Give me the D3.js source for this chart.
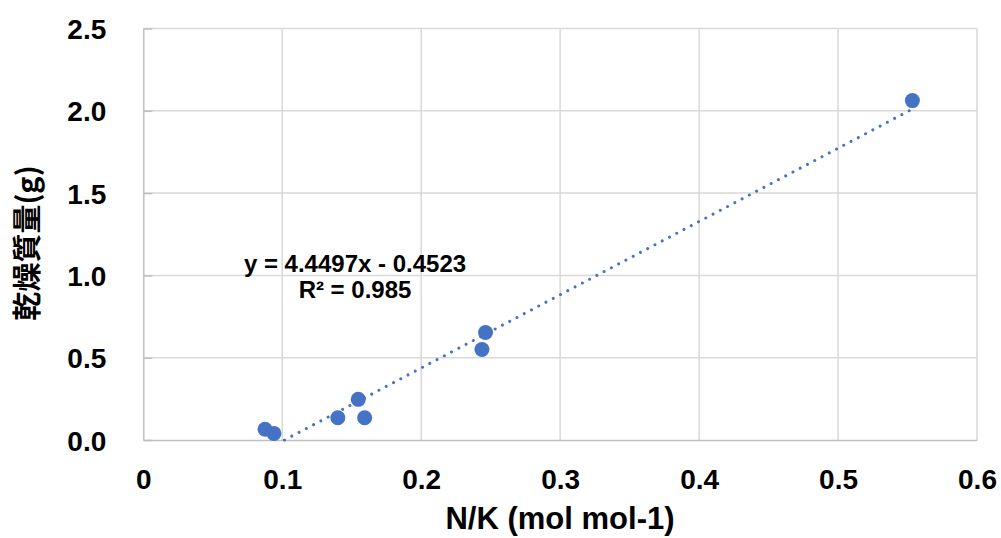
<!DOCTYPE html>
<html>
<head>
<meta charset="utf-8">
<script src="https://cdn.jsdelivr.net/npm/d3@7"></script>
<style>
  body { margin: 0; background: #fff; }
  svg { display: block; }
</style>
</head>
<body>
<svg id="chart" width="1001" height="538"></svg>
<script>
// data
var nk = [0.0876, 0.0940, 0.1400, 0.1547, 0.1593, 0.2437, 0.2463, 0.5535];
var dryMass = [0.065, 0.040, 0.135, 0.247, 0.135, 0.550, 0.653, 2.062];
var xTicks = [0, 0.1, 0.2, 0.3, 0.4, 0.5, 0.6];
var yTicks = [0, 0.5, 1.0, 1.5, 2.0, 2.5];
var slope = 4.4497, intercept = -0.4523;
var eqLines = ['y = 4.4497x - 0.4523', 'R² = 0.985'];

var svg = d3.select('#chart');
var plotLeft = 143.3, plotRight = 977, plotTop = 28.5, plotBottom = 440;
var blue = '#4472C4';

var x = d3.scaleLinear().domain([0, 0.6]).range([plotLeft, plotRight]);
var y = d3.scaleLinear().domain([0, 2.5]).range([plotBottom, plotTop]);

// grid
svg.append('g').selectAll('line').data(xTicks.slice(1)).enter().append('line')
	.attr('x1', d => x(d)).attr('x2', d => x(d))
	.attr('y1', plotTop).attr('y2', plotBottom)
	.attr('stroke', '#d9d9d9').attr('stroke-width', 1.5)
svg.append('g').selectAll('line').data(yTicks.slice(1)).enter().append('line')
	.attr('x1', plotLeft).attr('x2', plotRight)
	.attr('y1', d => y(d)).attr('y2', d => y(d))
	.attr('stroke', '#d9d9d9').attr('stroke-width', 1.5)

// axes
var yAxis = d3.axisLeft(y).tickValues(yTicks).tickSizeInner(-9).tickSizeOuter(0).tickFormat(d3.format('.1f'));
var gy = svg.append('g').attr('transform', 'translate(' + plotLeft + ',0)').call(yAxis);
gy.select('.domain').attr('stroke', '#bfbfbf').attr('stroke-width', 1.5);
gy.selectAll('.tick line').attr('stroke', '#bfbfbf').attr('stroke-width', 1.5);
gy.selectAll('.tick text').attr('x', -37).attr('dy', '0.36em')
	.style('font-family', 'Liberation Sans, Arial, sans-serif').style('font-size', '28px')
	.style('font-weight', 'bold').attr('fill', '#000');

var xAxis = d3.axisBottom(x).tickValues(xTicks).tickSize(0).tickFormat(d => d === 0 ? '0' : d3.format('.1f')(d));
var gx = svg.append('g').attr('transform', 'translate(0,' + plotBottom + ')').call(xAxis);
gx.select('.domain').attr('stroke', '#bfbfbf').attr('stroke-width', 1.5);
gx.selectAll('.tick text').attr('y', 49).attr('dy', 0)
	.style('font-family', 'Liberation Sans, Arial, sans-serif').style('font-size', '28px')
	.style('font-weight', 'bold').attr('fill', '#000');

// trendline, clipped at y = 0
var x0 = Math.max(d3.min(nk), -intercept / slope);
var x1 = d3.max(nk);
var trend = d3.line().x(d => x(d)).y(d => y(slope * d + intercept));
svg.append('path').datum([x0, x1])
	.attr('d', trend)
	.attr('fill', 'none')
	.attr('stroke', blue)
	.attr('stroke-width', 3)
	.attr('stroke-linecap', 'round')
	.attr('stroke-dasharray', '0.01 8.2')

// points
svg.append('g').selectAll('circle').data(d3.range(nk.length)).enter().append('circle')
	.attr('cx', i => x(nk[i]))
	.attr('cy', i => y(dryMass[i]))
	.attr('r', 7.5)
	.attr('fill', blue)

// equation label
svg.append('g').selectAll('text').data(eqLines).enter().append('text')
	.attr('x', 355)
	.attr('y', (d, i) => 272 + i * 26)
	.attr('text-anchor', 'middle')
	.style('font-family', 'Liberation Sans, Arial, sans-serif')
	.style('font-size', '24px').style('font-weight', 'bold')
	.text(d => d)

// axis titles
svg.append('text')
	.attr('x', 560).attr('y', 529)
	.attr('text-anchor', 'middle')
	.style('font-family', 'Liberation Sans, Arial, sans-serif')
	.style('font-size', '31px').style('font-weight', 'bold')
	.text('N/K (mol mol-1)')

svg.append('text')
	.attr('transform', 'translate(38,243) rotate(-90)')
	.attr('text-anchor', 'middle')
	.style('font-family', '"Noto Sans CJK JP", "Noto Sans CJK SC", sans-serif')
	.style('font-size', '29px').style('font-weight', 'bold')
	.text('乾燥質量(g)')
</script>
</body>
</html>
